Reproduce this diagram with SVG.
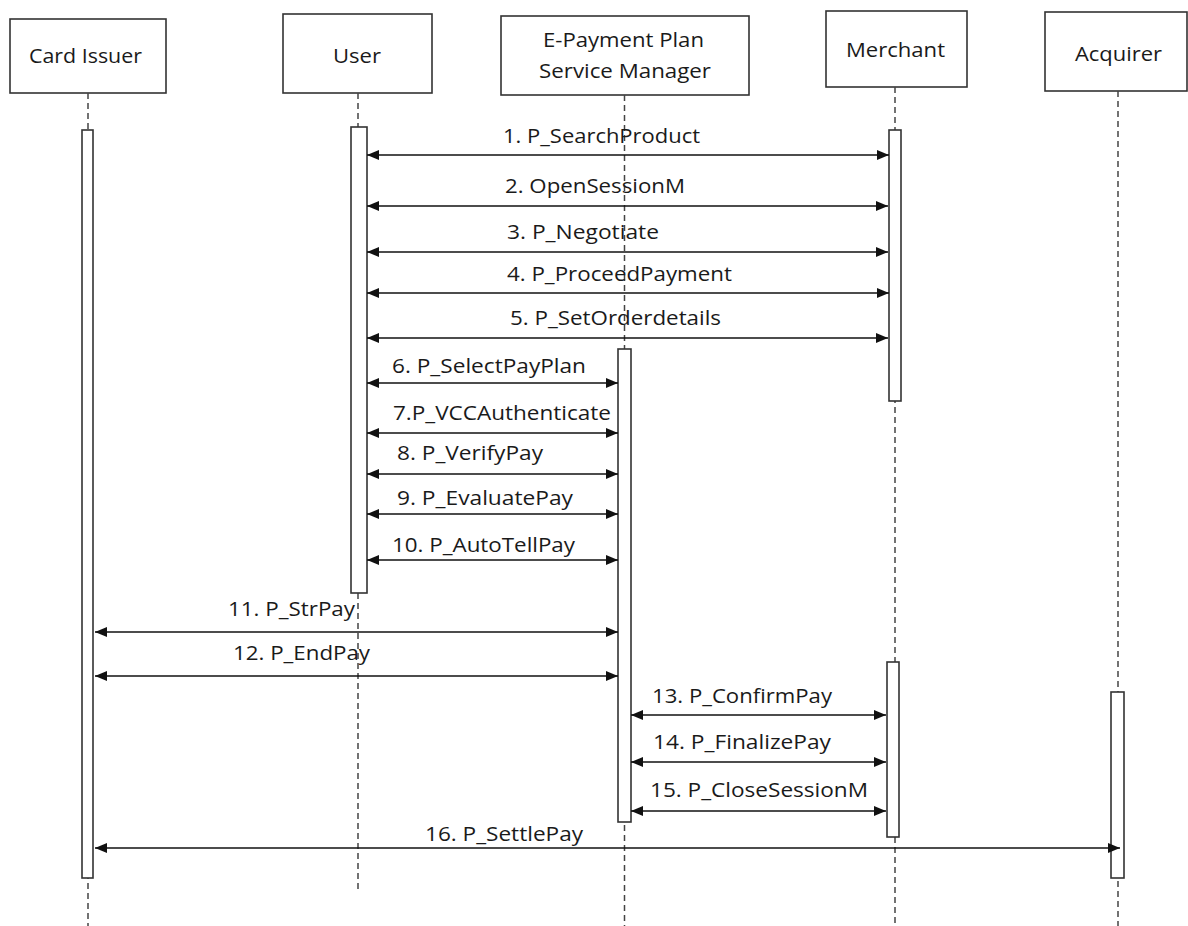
<svg xmlns="http://www.w3.org/2000/svg" width="1188" height="926" viewBox="0 0 1188 926">
<defs>
<marker id="ah" viewBox="0 0 12 10" refX="12" refY="5" markerWidth="12" markerHeight="10" markerUnits="userSpaceOnUse" orient="auto-start-reverse">
<path d="M0,0 L12,5 L0,10 Z" fill="#111"/>
</marker>
<style>
.box{fill:#fff;stroke:#333;stroke-width:1.6}
.act{fill:#fff;stroke:#333;stroke-width:1.6}
.life{stroke:#444;stroke-width:1.5;stroke-dasharray:6 4;fill:none}
.msg{stroke:#111;stroke-width:1.6;fill:none;marker-start:url(#ah);marker-end:url(#ah)}
text{font-family:"Open Sans","Liberation Sans",sans-serif;font-size:20px;fill:#1a1a1a}
</style>
</defs>
<rect width="1188" height="926" fill="#fff"/>

<g id="card-issuer">
<rect class="box" x="10" y="19" width="156" height="74"/>
<text x="29" y="63" textLength="113" lengthAdjust="spacingAndGlyphs">Card Issuer</text>
<line class="life" x1="88" y1="93" x2="88" y2="926"/>
<rect class="act" x="82" y="130" width="11" height="748"/>
</g>

<g id="user">
<rect class="box" x="283" y="14" width="149" height="79"/>
<text x="333" y="63" textLength="48" lengthAdjust="spacingAndGlyphs">User</text>
<line class="life" x1="358" y1="93" x2="358" y2="892"/>
<rect class="act" x="351" y="127" width="16" height="466"/>
</g>

<g id="epayment-manager">
<rect class="box" x="501" y="16" width="248" height="79"/>
<text x="543" y="47" textLength="161" lengthAdjust="spacingAndGlyphs">E-Payment Plan</text>
<text x="539" y="78" textLength="172" lengthAdjust="spacingAndGlyphs">Service Manager</text>
<line class="life" x1="624.5" y1="95" x2="624.5" y2="926"/>
<rect class="act" x="618" y="349" width="13" height="473"/>
</g>

<g id="merchant">
<rect class="box" x="826" y="11" width="141" height="76"/>
<text x="846" y="57" textLength="99" lengthAdjust="spacingAndGlyphs">Merchant</text>
<line class="life" x1="895" y1="87" x2="895" y2="926"/>
<rect class="act" x="889" y="130" width="12" height="271"/>
<rect class="act" x="887" y="662" width="12" height="175"/>
</g>

<g id="acquirer">
<rect class="box" x="1045" y="12" width="142" height="79"/>
<text x="1075" y="61" textLength="87" lengthAdjust="spacingAndGlyphs">Acquirer</text>
<line class="life" x1="1118" y1="91" x2="1118" y2="926"/>
<rect class="act" x="1111" y="692" width="13" height="186"/>
</g>

<g id="connectors">
<line class="msg" x1="367" y1="155" x2="889" y2="155"/>
<text x="503" y="143" textLength="197" lengthAdjust="spacingAndGlyphs">1. P_SearchProduct</text>
<line class="msg" x1="367" y1="206" x2="888" y2="206"/>
<text x="505" y="193" textLength="180" lengthAdjust="spacingAndGlyphs">2. OpenSessionM</text>
<line class="msg" x1="367" y1="252" x2="888" y2="252"/>
<text x="507" y="239" textLength="152" lengthAdjust="spacingAndGlyphs">3. P_Negotiate</text>
<line class="msg" x1="367" y1="293" x2="889" y2="293"/>
<text x="507" y="281" textLength="225" lengthAdjust="spacingAndGlyphs">4. P_ProceedPayment</text>
<line class="msg" x1="367" y1="338" x2="888" y2="338"/>
<text x="510" y="325" textLength="211" lengthAdjust="spacingAndGlyphs">5. P_SetOrderdetails</text>

<line class="msg" x1="367" y1="383" x2="618" y2="383"/>
<text x="392" y="373" textLength="194" lengthAdjust="spacingAndGlyphs">6. P_SelectPayPlan</text>
<line class="msg" x1="367" y1="433" x2="618" y2="433"/>
<text x="393" y="420" textLength="218" lengthAdjust="spacingAndGlyphs">7.P_VCCAuthenticate</text>
<line class="msg" x1="367" y1="474" x2="618" y2="474"/>
<text x="397" y="460" textLength="146" lengthAdjust="spacingAndGlyphs">8. P_VerifyPay</text>
<line class="msg" x1="367" y1="514" x2="618" y2="514"/>
<text x="397" y="505" textLength="176" lengthAdjust="spacingAndGlyphs">9. P_EvaluatePay</text>
<line class="msg" x1="367" y1="560" x2="618" y2="560"/>
<text x="392" y="552" textLength="183" lengthAdjust="spacingAndGlyphs">10. P_AutoTellPay</text>

<line class="msg" x1="95" y1="632" x2="618" y2="632"/>
<text x="228" y="616" textLength="127" lengthAdjust="spacingAndGlyphs">11. P_StrPay</text>
<line class="msg" x1="95" y1="676" x2="618" y2="676"/>
<text x="233" y="660" textLength="137" lengthAdjust="spacingAndGlyphs">12. P_EndPay</text>

<line class="msg" x1="631" y1="715" x2="886" y2="715"/>
<text x="652" y="703" textLength="180" lengthAdjust="spacingAndGlyphs">13. P_ConfirmPay</text>
<line class="msg" x1="631" y1="762" x2="886" y2="762"/>
<text x="653" y="749" textLength="178" lengthAdjust="spacingAndGlyphs">14. P_FinalizePay</text>
<line class="msg" x1="631" y1="811" x2="886" y2="811"/>
<text x="650" y="797" textLength="218" lengthAdjust="spacingAndGlyphs">15. P_CloseSessionM</text>

<line class="msg" x1="95" y1="848" x2="1120" y2="848"/>
<text x="425" y="841" textLength="158" lengthAdjust="spacingAndGlyphs">16. P_SettlePay</text>
</g>
</svg>
